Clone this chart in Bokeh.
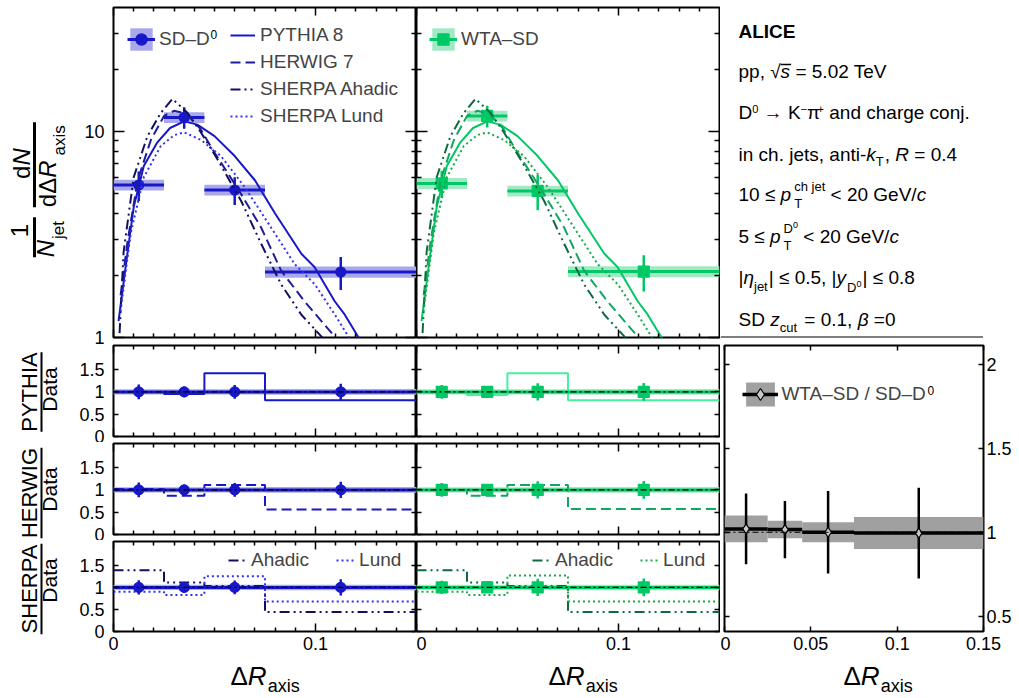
import math
from bokeh.plotting import figure
from bokeh.layouts import row, column
from bokeh.models import (Range1d, FixedTicker, LinearAxis, LogAxis, Span, Legend,
                          LegendItem, Label, CustomJSTickFormatter, BasicTickFormatter,
                          ColumnDataSource)
from bokeh.core.properties import value
from bokeh.embed import file_html
from bokeh.resources import INLINE

FONT = "Liberation Sans"

# ---------------- data ----------------
bin_lo = [0.0, 0.025, 0.045, 0.075]
bin_hi = [0.025, 0.045, 0.075, 0.15]
x_pts = [0.0125, 0.035, 0.06, 0.1125]

sd_y = [5.5, 11.7, 5.2, 2.08]
sd_stat = [0.9, 1.4, 0.8, 0.38]
sd_sys = [0.33, 0.70, 0.31, 0.13]

wta_y = [5.6, 11.9, 5.15, 2.09]
wta_stat = [0.85, 1.45, 1.0, 0.42]
wta_sys = [0.34, 0.71, 0.31, 0.13]

ratio_y = [1.02, 1.016, 1.0, 0.995]
ratio_stat = [0.21, 0.17, 0.245, 0.27]
ratio_sys = [0.08, 0.052, 0.06, 0.095]

pythia_x = [0.0025, 0.006, 0.010, 0.015, 0.0215, 0.028, 0.035, 0.0415, 0.050, 0.060,
            0.070, 0.080, 0.093, 0.0995, 0.1095, 0.1145, 0.1205, 0.126]
pythia_y = [1.2, 2.2, 4.3, 6.8, 8.8, 10.4, 11.2, 10.8, 9.5, 7.6,
            5.8, 4.0, 2.55, 2.2, 1.5, 1.29, 1.03, 0.85]
herwig_x = [0.0035, 0.007, 0.012, 0.0185, 0.025, 0.030, 0.036, 0.043, 0.050, 0.0565,
            0.063, 0.073, 0.083, 0.0945, 0.1095, 0.115]
herwig_y = [1.6, 2.95, 5.8, 9.1, 11.9, 12.6, 12.2, 10.3, 7.9, 6.3,
            5.0, 3.43, 2.11, 1.5, 1.01, 0.85]
ahadic_x = [0.003, 0.005, 0.010, 0.0168, 0.0234, 0.0292, 0.0367, 0.0433, 0.0516, 0.0632,
            0.0731, 0.083, 0.093, 0.103, 0.108]
ahadic_y = [1.05, 2.6, 6.0, 9.5, 12.3, 14.4, 12.3, 9.9, 7.3, 4.6,
            2.85, 1.81, 1.29, 1.01, 0.88]
lund_x = [0.0035, 0.0085, 0.015, 0.0234, 0.030, 0.035, 0.0433, 0.0532, 0.0648, 0.0765,
          0.0897, 0.0997, 0.1096, 0.1163, 0.12]
lund_y = [1.34, 3.2, 6.0, 8.5, 9.6, 9.9, 9.1, 7.6, 5.4, 3.6,
          2.27, 1.81, 1.29, 1.01, 0.9]

pythia_ratio_sd = [1.0, 0.95, 1.42, 0.81]
herwig_ratio_sd = [1.02, 0.87, 1.11, 0.56]
ahadic_ratio_sd = [1.39, 1.11, 1.03, 0.44]
lund_ratio_sd = [0.9, 0.83, 1.25, 0.68]

pythia_ratio_wta = [1.0, 0.93, 1.42, 0.81]
herwig_ratio_wta = [1.0, 0.87, 1.11, 0.57]
ahadic_ratio_wta = [1.39, 1.11, 1.03, 0.44]
lund_ratio_wta = [0.9, 0.83, 1.27, 0.68]

# ---------------- styles ----------------
BLUE = "#1818c8"
BLUE_SYS = "#a8a8ea"
BLUE_HERWIG = "#1e1e9a"
BLUE_AHADIC = "#101060"
BLUE_LUND = "#3030ff"
GREEN = "#00c864"
GREEN_SYS = "#a2e8c4"
GREEN_PYR = "#48f0a0"
GREEN_HERWIG = "#10a860"
GREEN_AHADIC = "#0b6b3c"
GREEN_LUND = "#1aaa4a"
GREY = "#a0a0a0"

D_HERWIG = "10 5"
D_AHADIC = "10 4 2 4 2 4"
D_LUND = "2 3"

XT = [0.0, 0.1]
XM = [i / 100 for i in range(1, 15) if i != 10]
YLT = [1, 10]
YLM = [2, 3, 4, 5, 6, 7, 8, 9, 20, 30]
RT = [0.0, 0.5, 1.0, 1.5]

AW = {' ': 278, ',': 278, '-': 333, '.': 278, '/': 278, '|': 260, '<': 584, '=': 584,
      'A': 667, 'C': 722, 'D': 722, 'E': 667, 'G': 778, 'H': 722, 'I': 278, 'K': 667,
      'L': 556, 'N': 722, 'P': 667, 'R': 722, 'S': 667, 'T': 611, 'V': 667, 'W': 944,
      'Y': 667, 'a': 556, 'c': 500, 'd': 556, 'e': 556, 'g': 556, 'h': 556, 'i': 222,
      'j': 222, 'k': 500, 'l': 222, 'n': 556, 'o': 556, 'p': 556, 'r': 333, 's': 500,
      't': 278, 'u': 556, 'x': 500, 'y': 500, 'z': 500, '√': 549, '≤': 549, '→': 1000,
      'Δ': 668, 'η': 556, 'β': 575, 'π': 556, '–': 556, '−': 584, '+': 584}
ABW = {'A': 722, 'L': 611, 'I': 278, 'C': 722, 'E': 667}
K_BASE = 0.41  # baseline correction of the text glyph, fraction of font size


def tw(s, size, bold=False):
    tab = ABW if bold else {}
    return sum(tab.get(c, AW.get(c, 556)) for c in s) * size / 1000.0


def tick_axis(ax, ticks, minor, major_len, minor_len, labels=False, standoff=0, formatter=None):
    ax.ticker = FixedTicker(ticks=ticks, minor_ticks=minor)
    ax.axis_line_color = None
    ax.major_tick_in = major_len
    ax.major_tick_out = 0
    ax.minor_tick_in = minor_len
    ax.minor_tick_out = 0
    ax.major_tick_line_color = "black"
    ax.minor_tick_line_color = "black"
    ax.major_tick_line_width = 1.5
    ax.minor_tick_line_width = 1.5
    if labels:
        ax.major_label_text_font = FONT
        ax.major_label_text_font_size = "18px"
        ax.major_label_text_color = "black"
        ax.major_label_standoff = standoff
        ax.formatter = formatter or BasicTickFormatter()
    else:
        ax.major_label_text_font_size = "0px"
        ax.major_label_standoff = 0
        ax.formatter = CustomJSTickFormatter(code="return '';")


def panel(fw, fh, xr, yr, ylog=False, left=0, right=0, top=0, bottom=0):
    p = figure(frame_width=fw, frame_height=fh, x_range=xr, y_range=yr,
               y_axis_type="log" if ylog else "linear",
               output_backend="svg", toolbar_location=None,
               min_border_left=left, min_border_right=right,
               min_border_top=top, min_border_bottom=bottom)
    p.xgrid.visible = False
    p.ygrid.visible = False
    p.outline_line_color = "black"
    p.outline_line_width = 2
    p.outline_line_alpha = 1.0
    p.add_layout(LinearAxis(), "above")
    p.add_layout(LogAxis() if ylog else LinearAxis(), "right")
    return p


def blank(x0, x1, ytop, ybot, left=0, right=0, top=0, bottom=0):
    """Decoration canvas whose data units are page pixels (y negated) inside its frame."""
    p = figure(frame_width=int(round(x1 - x0)), frame_height=int(round(ybot - ytop)),
               x_range=Range1d(x0, x1), y_range=Range1d(-ybot, -ytop),
               output_backend="svg", toolbar_location=None,
               min_border_left=left, min_border_right=right,
               min_border_top=top, min_border_bottom=bottom,
               x_axis_location=None, y_axis_location=None)
    p.outline_line_color = None
    p.xgrid.visible = False
    p.ygrid.visible = False
    return p


def put(p, x, y, s, size, style="normal", align="left", angle=0.0):
    """x, y: page pixel position of the text's left end on its baseline."""
    lead = len(s) - len(s.lstrip(" "))
    adv = tw(" " * lead, size) if align == "left" else 0.0
    s = s.strip(" ")
    if angle == 0.0:
        x = x + adv
        y = y - K_BASE * size
    else:
        y = y - adv
        x = x - K_BASE * size
    p.text(x=[x], y=[-y], text=[s], text_font=value(FONT), text_font_size=f"{size}px",
           text_font_style=style, text_align=align, text_baseline="alphabetic",
           angle=angle, text_color="black")


def draw_points(p, y, stat, sys, sys_color):
    src = ColumnDataSource(dict(
        lo=bin_lo, hi=bin_hi, x=x_pts, y=y,
        ylo=[v - e for v, e in zip(y, stat)], yhi=[v + e for v, e in zip(y, stat)],
        slo=[v - e for v, e in zip(y, sys)], shi=[v + e for v, e in zip(y, sys)]))
    r_box = p.quad(left="lo", right="hi", bottom="slo", top="shi", source=src,
                   fill_color=sys_color, line_color=None)
    return src, r_box


def draw_marks(p, src, color, marker, msize, fill=None, hw=3):
    r_h = p.segment(x0="lo", y0="y", x1="hi", y1="y", source=src, line_color=color, line_width=hw)
    r_v = p.segment(x0="x", y0="ylo", x1="x", y1="yhi", source=src, line_color=color, line_width=2.5)
    r_m = p.scatter(x="x", y="y", source=src, marker=marker, size=msize,
                    fill_color=fill or color, line_color=color, line_width=1.2)
    r_c = p.scatter(x=[], y=[], marker="cross", size=10, line_color=color, line_width=2.5)
    return r_h, r_v, r_m, r_c


edges = bin_lo + [bin_hi[-1]]


def stepv(v):
    return list(v) + [v[-1]]


# ---------------- top panels ----------------
def top_panel(is_left, y, stat, sys, col, syscol, marker, msize, cols):
    p = panel(303, 330, Range1d(0, 0.15), Range1d(1, 40), True,
              left=41 if is_left else 0, right=0 if is_left else 1, top=7, bottom=7)
    tick_axis(p.below[0], XT, XM, 8, 4)
    tick_axis(p.above[0], XT, XM, 8, 4)
    tick_axis(p.left[0], YLT, YLM, 11, 5, labels=is_left, standoff=9)
    tick_axis(p.right[0], YLT, YLM, 11, 5)
    src, rb = draw_points(p, y, stat, sys, syscol)
    rh, rv, rm, rc = draw_marks(p, src, col, marker, msize)
    lp = p.line(pythia_x, pythia_y, line_color=cols[0], line_width=2)
    lh = p.line(herwig_x, herwig_y, line_color=cols[1], line_width=2, line_dash=D_HERWIG)
    la = p.line(ahadic_x, ahadic_y, line_color=cols[2], line_width=2, line_dash=D_AHADIC)
    ll = p.line(lund_x, lund_y, line_color=cols[3], line_width=2, line_dash=D_LUND)
    return p, (rb, rh, rc, rm), (lp, lh, la, ll)


def leg(items, loc, gw, gh, standoff=4, spacing=0, orientation="vertical", lh=20):
    return Legend(items=items, location=loc, glyph_width=gw, glyph_height=gh,
                  label_standoff=standoff, padding=0, margin=0, spacing=spacing,
                  orientation=orientation, border_line_color=None, background_fill_alpha=0.0,
                  label_text_font=FONT, label_text_font_size="19px", label_height=lh)


def sup_label(p, x, y, s="0", size=12):
    p.add_layout(Label(x=x, y=y + K_BASE * size, x_units="screen", y_units="screen", text=s,
                       text_font=FONT, text_font_size=f"{size}px", text_baseline="alphabetic",
                       text_align="left", text_color="black"))


topL, dL, mL = top_panel(True, sd_y, sd_stat, sd_sys, BLUE, BLUE_SYS, "circle", 10,
                         (BLUE, BLUE_HERWIG, BLUE_AHADIC, BLUE_LUND))
topL.add_layout(leg([LegendItem(label=value("SD–D"), renderers=list(dL))], (14, 284.5), 28, 28, lh=28))
sup_label(topL, 97, 298.2)
topL.add_layout(leg([LegendItem(label=value("PYTHIA 8"), renderers=[mL[0]]),
                     LegendItem(label=value("HERWIG 7"), renderers=[mL[1]]),
                     LegendItem(label=value("SHERPA Ahadic"), renderers=[mL[2]]),
                     LegendItem(label=value("SHERPA Lund"), renderers=[mL[3]])],
                    (117, 209), 25, 24, standoff=5, spacing=3, lh=24))

topM, dM, mM = top_panel(False, wta_y, wta_stat, wta_sys, GREEN, GREEN_SYS, "square", 11,
                         (GREEN, GREEN_HERWIG, GREEN_AHADIC, GREEN_LUND))
topM.add_layout(leg([LegendItem(label=value("WTA–SD"), renderers=list(dM))], (13, 284.5), 28, 28, lh=28))


# ---------------- ratio panels ----------------
def ratio_panel(is_left, y, stat, sys, col, syscol, marker, msize, vals, cols, dash, bottom_labels):
    fh = 90 if bottom_labels else 91
    p = panel(303, fh, Range1d(0, 0.15), Range1d(0, 2.04), False,
              left=41 if is_left else 0, right=0 if is_left else 1, top=1,
              bottom=28 if bottom_labels else 6)
    tick_axis(p.below[0], XT, XM, 8, 4, labels=bottom_labels, standoff=5)
    tick_axis(p.above[0], XT, XM, 8, 4)
    tick_axis(p.left[0], RT, [], 5, 0, labels=is_left, standoff=9)
    tick_axis(p.right[0], RT, [], 5, 0)
    rel_stat = [e / v for e, v in zip(stat, y)]
    rel_sys = [e / v for e, v in zip(sys, y)]
    ones = [1.0 for _ in y]
    src, rb = draw_points(p, ones, rel_stat, rel_sys, syscol)
    rs = []
    for v, c, d in zip(vals, cols, dash):
        rs.append(p.step(x=edges, y=stepv(v), mode="after", line_color=c, line_width=2,
                         line_dash=d))
    draw_marks(p, src, col, marker, msize)
    p.add_layout(Span(location=1.0, dimension="width", line_color="black", line_width=1.2,
                      line_dash="6 3 2 3"))
    return p, rs


L1, _ = ratio_panel(True, sd_y, sd_stat, sd_sys, BLUE, BLUE_SYS, "circle", 10,
                    [pythia_ratio_sd], [BLUE], ["solid"], False)
L2, _ = ratio_panel(True, sd_y, sd_stat, sd_sys, BLUE, BLUE_SYS, "circle", 10,
                    [herwig_ratio_sd], [BLUE], [D_HERWIG], False)
L3, rL3 = ratio_panel(True, sd_y, sd_stat, sd_sys, BLUE, BLUE_SYS, "circle", 10,
                      [ahadic_ratio_sd, lund_ratio_sd], [BLUE_AHADIC, BLUE_LUND],
                      [D_AHADIC, D_LUND], True)
L3.add_layout(leg([LegendItem(label=value("Ahadic"), renderers=[rL3[0]]),
                   LegendItem(label=value("Lund"), renderers=[rL3[1]])],
                  (115, 59), 20, 24, standoff=3, spacing=27, orientation="horizontal", lh=24))

M1, _ = ratio_panel(False, wta_y, wta_stat, wta_sys, GREEN, GREEN_SYS, "square", 11,
                    [pythia_ratio_wta], [GREEN_PYR], ["solid"], False)
M2, _ = ratio_panel(False, wta_y, wta_stat, wta_sys, GREEN, GREEN_SYS, "square", 11,
                    [herwig_ratio_wta], [GREEN_HERWIG], [D_HERWIG], False)
M3, rM3 = ratio_panel(False, wta_y, wta_stat, wta_sys, GREEN, GREEN_SYS, "square", 11,
                      [ahadic_ratio_wta, lund_ratio_wta], [GREEN_AHADIC, GREEN_LUND],
                      [D_AHADIC, D_LUND], True)
M3.add_layout(leg([LegendItem(label=value("Ahadic"), renderers=[rM3[0]]),
                   LegendItem(label=value("Lund"), renderers=[rM3[1]])],
                  (116, 59), 20, 24, standoff=3, spacing=27, orientation="horizontal", lh=24))

# ---------------- right ratio panel ----------------
RP = panel(259, 286, Range1d(0, 0.15), Range1d(0.41, 2.11), False, left=4, right=29, top=1, bottom=28)
tick_axis(RP.below[0], [0.0, 0.05, 0.1, 0.15], [], 5, 0, labels=True, standoff=5)
tick_axis(RP.above[0], [0.0, 0.05, 0.1, 0.15], [], 5, 0)
tick_axis(RP.left[0], [0.5, 1.0, 1.5, 2.0], [], 5, 0)
tick_axis(RP.right[0], [0.5, 1.0, 1.5, 2.0], [], 5, 0, labels=True, standoff=3)
srcR, rbR = draw_points(RP, ratio_y, ratio_stat, ratio_sys, GREY)
RP.add_layout(Span(location=1.0, dimension="width", line_color="black", line_width=1.2,
                   line_dash="6 3 2 3"))
rhR, rvR, rmR, rcR = draw_marks(RP, srcR, "black", "diamond", 10, fill="#c8c8c8", hw=3.5)
RP.add_layout(leg([LegendItem(label=value("WTA–SD / SD–D"), renderers=[rbR, rhR, rcR, rmR])],
                  (18.4, 222.5), 36, 30, standoff=3, lh=30))
sup_label(RP, 203, 236.2)

# ---------------- label figures (frames aligned with the neighbouring panels) ----------------
R90 = math.pi / 2
lt = blank(0, 72, 7, 337, top=7, bottom=7)
put(lt, 29, 230, "1", 24, align="center", angle=R90)
lt.segment(x0=[34], y0=[-216.7], x1=[34], y1=[-256.7], line_color="black", line_width=3)
put(lt, 55, 256.7, "N", 24, "italic", angle=R90)
put(lt, 65, 238.5, "jet", 17, angle=R90)
put(lt, 31, 178.4, "d", 24, angle=R90)
put(lt, 31, 178.4 - tw("d", 24), "N", 24, "italic", angle=R90)
lt.segment(x0=[34], y0=[-121.7], x1=[34], y1=[-206.7], line_color="black", line_width=3)
put(lt, 57, 206.7, "dΔ", 24, angle=R90)
put(lt, 57, 206.7 - tw("dΔ", 24), "R", 24, "italic", angle=R90)
put(lt, 66, 155, "axis", 17, angle=R90)

lb = blank(0, 72, 344, 697)
for name, cy, dy in [("PYTHIA", 391.5, 389), ("HERWIG", 492.5, 489), ("SHERPA", 588.5, 580)]:
    put(lb, 38, cy, name, 22, align="center", angle=R90)
    w = tw(name, 22)
    lb.segment(x0=[41], y0=[-(cy - w / 2)], x1=[41], y1=[-(cy + w / 2)], line_color="black",
               line_width=2)
    put(lb, 58, dy, "Data", 21, align="center", angle=R90)


def title_fig(x0, x1, left, right, start):
    p = blank(x0, x1, 659, 697, left=left, right=right)
    yb = 686.5
    put(p, start, yb, "Δ", 26)
    x = start + tw("Δ", 26)
    put(p, x, yb, "R", 26, "italic")
    x += tw("R", 26) + 1
    put(p, x, yb + 6, "axis", 18)
    return p


tL = title_fig(113, 416, 41, 0, 230)
tM = title_fig(416, 719, 0, 1, 548)
tR = title_fig(724, 983, 4, 29, 843)

# ---------------- text panel ----------------
tp = blank(720, 983, 7, 337, top=7, bottom=7)
X0 = 738
S, SS = 19, 13

put(tp, X0, 38.5, "ALICE", S, "bold")

yb = 78.5
x = X0
put(tp, x, yb, "pp, √", S); x += tw("pp, √", S)
xs = x
put(tp, x, yb, "s", S, "italic"); x += tw("s", S)
tp.segment(x0=[xs], y0=[-(yb - 14.5)], x1=[x + 1], y1=[-(yb - 14.5)], line_color="black", line_width=1.3)
put(tp, x, yb, " = 5.02 TeV", S)

yb = 119.5
x = X0
for s, sz, dy in [("D", S, 0), ("0", 11, -6), (" → K", S, 0), ("−", 11, -6), ("π", S, 0),
                  ("+", 11, -6), (" and charge conj.", S, 0)]:
    put(tp, x, yb + dy, s, sz)
    x += tw(s, sz)

yb = 161.5
x = X0
put(tp, x, yb, "in ch. jets, anti-", S); x += tw("in ch. jets, anti-", S)
put(tp, x, yb, "k", S, "italic"); x += tw("k", S)
put(tp, x, yb + 5, "T", SS); x += tw("T", SS) + 1
put(tp, x, yb, ", ", S); x += tw(", ", S)
put(tp, x, yb, "R", S, "italic"); x += tw("R", S)
put(tp, x, yb, " = 0.4", S)

yb = 202
x = X0
put(tp, x, yb, "10 ≤ ", S); x += tw("10 ≤ ", S)
put(tp, x, yb, "p", S, "italic"); x += tw("p", S) + 3
put(tp, x, yb - 11, "ch jet", SS)
put(tp, x, yb + 6, "T", SS)
x += max(tw("ch jet", SS), tw("T", SS))
put(tp, x, yb, " < 20 GeV/", S); x += tw(" < 20 GeV/", S)
put(tp, x, yb, "c", S, "italic")

yb = 244
x = X0
put(tp, x, yb, "5 ≤ ", S); x += tw("5 ≤ ", S)
put(tp, x, yb, "p", S, "italic"); x += tw("p", S) + 3
put(tp, x, yb - 11, "D", SS)
put(tp, x + tw("D", SS), yb - 16, "0", 9)
put(tp, x, yb + 6, "T", SS)
x += max(tw("D", SS) + tw("0", 9), tw("T", SS))
put(tp, x, yb, " < 20 GeV/", S); x += tw(" < 20 GeV/", S)
put(tp, x, yb, "c", S, "italic")

yb = 285
x = X0
put(tp, x, yb, "|", S); x += tw("|", S)
put(tp, x, yb, "η", S, "italic"); x += tw("η", S)
put(tp, x, yb + 6, "jet", SS); x += tw("jet", SS) + 1
put(tp, x, yb, "| ≤ 0.5, |", S); x += tw("| ≤ 0.5, |", S)
put(tp, x, yb, "y", S, "italic"); x += tw("y", S) + 1
put(tp, x, yb + 7, "D", SS); x += tw("D", SS)
put(tp, x, yb + 2, "0", 9); x += tw("0", 9) + 1
put(tp, x, yb, "| ≤ 0.8", S)

yb = 327
x = X0
put(tp, x, yb, "SD ", S); x += tw("SD ", S)
put(tp, x, yb, "z", S, "italic"); x += tw("z", S)
put(tp, x, yb + 5, "cut", SS); x += tw("cut", SS) + 2
put(tp, x, yb, " = 0.1, ", S); x += tw(" = 0.1, ", S)
put(tp, x, yb, "β", S, "italic"); x += tw("β", S)
put(tp, x, yb, " =0", S)

tp.add_layout(Span(location=-337, dimension="width", line_color="black", line_width=2))

# ---------------- layout ----------------
top_row = row(lt, topL, topM, tp)
colL = column(L1, L2, L3, tL)
colM = column(M1, M2, M3, tM)
colR = column(RP, tR)
bottom_row = row(lb, colL, colM, colR)
layout = column(top_row, bottom_row)

open("out.html", "w").write(file_html(layout, INLINE))
